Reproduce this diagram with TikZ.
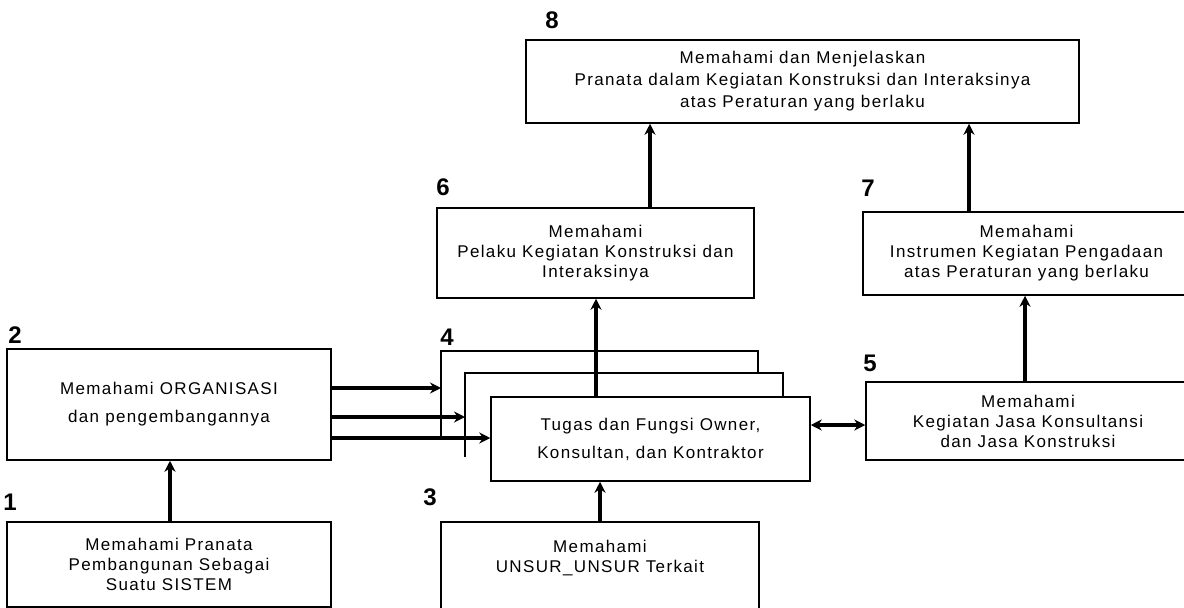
\documentclass[tikz,border=0pt]{standalone}
\usepackage{fontspec}
\setmainfont{Liberation Sans}[LetterSpace=8]
\usetikzlibrary{arrows.meta}
\begin{document}
\begin{tikzpicture}[x=1pt,y=-1pt,
  box/.style={draw,line width=1.5pt,fill=white,rectangle,inner sep=0pt,align=center,
    font=\fontsize{17}{20}\selectfont},
  widebox/.style={box,font=\fontsize{17}{28}\selectfont},
  txt/.style={inner sep=0pt,align=center,font=\fontsize{17}{20}\selectfont},
  lab/.style={inner sep=0pt,font=\fontsize{24}{24}\bfseries\selectfont},
  arr/.style={line width=3.8pt,-{Stealth[length=11pt,width=11pt]}},
  darr/.style={line width=3.8pt,{Stealth[length=11pt,width=11pt]}-{Stealth[length=11pt,width=11pt]}},
  edgeline/.style={line width=1.5pt}]
\useasboundingbox (0,0) rectangle (1184,608);
\clip (0,0) rectangle (1184,608);
% labels
\node[lab] (l8) at (552,20) {8};
\node[lab] (l6) at (443,187) {6};
\node[lab] (l7) at (868,188) {7};
\node[lab] (l2) at (15,335) {2};
\node[lab] (l4) at (447,337) {4};
\node[lab] (l5) at (870,363) {5};
\node[lab] (l1) at (10,502) {1};
\node[lab] (l3) at (430,497) {3};
% boxes
\node[box,minimum width=553pt,minimum height=83pt,font=\fontsize{17}{22}\selectfont] (b8) at (802.5,81.5)
  {Memahami dan Menjelaskan\\Pranata dalam Kegiatan Konstruksi dan Interaksinya\\atas Peraturan yang berlaku};
\node[box,minimum width=317pt,minimum height=90pt] (b6) at (595.5,253)
  {Memahami\\Pelaku Kegiatan Konstruksi dan\\Interaksinya};
\node[box,minimum width=327pt,minimum height=83pt] (b7) at (1026.5,253.5)
  {Memahami\\Instrumen Kegiatan Pengadaan\\atas Peraturan yang berlaku};
\node[widebox,minimum width=324pt,minimum height=111pt] (b2) at (169,404.5)
  {Memahami ORGANISASI\\dan pengembangannya};
% stacked boxes of 4
\draw[edgeline] (441,438) -- (441,351) -- (758,351) -- (758,373);
\draw[edgeline] (465,457) -- (465,373) -- (783,373) -- (783,397);
\node[widebox,minimum width=319pt,minimum height=84pt] (b4) at (650.5,439)
  {Tugas dan Fungsi Owner,\\Konsultan, dan Kontraktor};
\coordinate (b4back) at (441,388);
\coordinate (b4mid) at (465,417);
\node[box,minimum width=324pt,minimum height=78pt] (b5) at (1028,421)
  {Memahami\\Kegiatan Jasa Konsultansi\\dan Jasa Konstruksi};
\node[box,minimum width=324pt,minimum height=85pt] (b1) at (169,564.5)
  {Memahami Pranata\\Pembangunan Sebagai\\Suatu SISTEM};
\node[box,minimum width=318pt,minimum height=98pt] (b3) at (600,571) {};
\node[txt] (b3t) at (600,558) {Memahami\\UNSUR\_UNSUR Terkait};
% x positions of vertical connectors
\coordinate (x650) at (650,0);
\coordinate (x969) at (969,0);
\coordinate (x596) at (596,0);
\coordinate (x600) at (600,0);
\coordinate (x170) at (170,0);
\coordinate (x1025) at (1025,0);
\coordinate (y388) at (0,388);
\coordinate (y417) at (0,417);
\coordinate (y438) at (0,438);
\coordinate (y425) at (0,425);
% connectors
\draw[arr] (b1.north -| x170) -- (b2.south -| x170);
\draw[arr] (b3.north -| x600) -- (b4.south -| x600);
\draw[arr] (b4.north -| x596) -- (b6.south -| x596);
\draw[arr] (b6.north -| x650) -- (b8.south -| x650);
\draw[arr] (b7.north -| x969) -- (b8.south -| x969);
\draw[arr] (b5.north -| x1025) -- (b7.south -| x1025);
\draw[arr] (b2.east |- y388) -- (b4back);
\draw[arr] (b2.east |- y417) -- (b4mid);
\draw[arr] (b2.east |- y438) -- (b4.west |- y438);
\draw[darr] (b4.east |- y425) -- (b5.west |- y425);
\end{tikzpicture}
\end{document}
